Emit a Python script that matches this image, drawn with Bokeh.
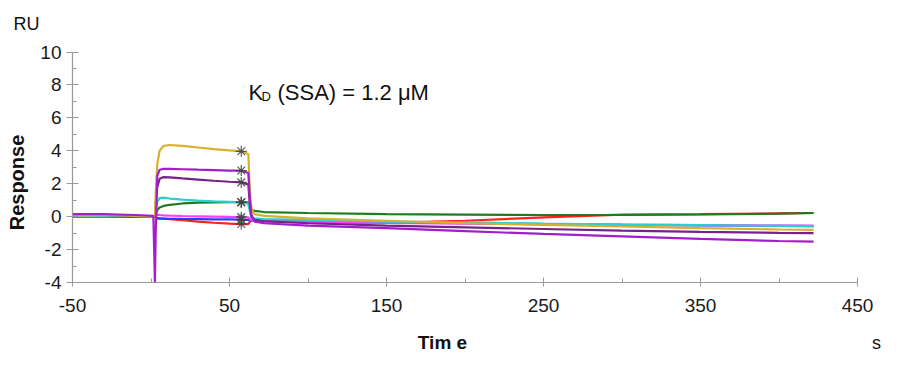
import math
from bokeh.plotting import figure
from bokeh.models import Range1d, FixedTicker, Label, ColumnDataSource
from bokeh.embed import file_html
from bokeh.resources import INLINE

# ---------------- data ----------------
time_s = [-50, -30, -10, 1.5, 2.5, 3, 4, 5.5, 8, 12, 20, 30, 40, 50, 57.5, 62,
          63, 64, 66, 72, 100, 150, 200, 250, 300, 350, 400, 422]
report_index = 14  # report point at t = 57.5 s

gold = [0.05, 0.1, 0.05, 0.0, 0.0, 1.5, 3.2, 4.0, 4.3, 4.35, 4.3, 4.2, 4.1, 4.02, 3.97, 3.8,
        1.5, 0.5, 0.15, 0.05, -0.1, -0.25, -0.4, -0.5, -0.6, -0.7, -0.78, -0.8]
purple = [0.15, 0.15, 0.1, 0.05, -4.0, -1.0, 2.5, 2.85, 2.9, 2.9, 2.88, 2.85, 2.83, 2.8, 2.8, 2.65,
          1.0, 0.1, -0.3, -0.4, -0.55, -0.7, -0.88, -1.05, -1.2, -1.35, -1.48, -1.52]
dark_purple = [0.1, 0.1, 0.05, 0.0, 0.0, 0.8, 1.8, 2.3, 2.4, 2.38, 2.32, 2.25, 2.18, 2.12, 2.08, 1.95,
               0.7, 0.0, -0.2, -0.28, -0.4, -0.55, -0.65, -0.75, -0.85, -0.92, -0.98, -1.0]
cyan = [0.05, 0.05, 0.05, 0.0, 0.0, 0.4, 0.9, 1.12, 1.15, 1.1, 1.03, 0.97, 0.93, 0.9, 0.87, 0.8,
        0.3, -0.05, -0.1, -0.15, -0.2, -0.3, -0.35, -0.42, -0.48, -0.52, -0.56, -0.58]
green = [0.05, 0.05, 0.05, 0.0, 0.0, 0.15, 0.4, 0.55, 0.65, 0.72, 0.8, 0.85, 0.87, 0.88, 0.88, 0.85,
         0.5, 0.4, 0.35, 0.28, 0.22, 0.15, 0.12, 0.1, 0.1, 0.13, 0.18, 0.22]
magenta = [0.05, 0.05, 0.05, 0.0, 0.0, 0.1, 0.12, 0.1, 0.08, 0.06, 0.04, 0.02, 0.0, -0.02, -0.03, -0.05,
           -0.15, -0.2, -0.22, -0.28, -0.32, -0.38, -0.42, -0.45, -0.48, -0.52, -0.55, -0.55]
blue = [0.0, 0.0, 0.0, 0.0, 0.0, -0.05, -0.1, -0.12, -0.12, -0.13, -0.14, -0.15, -0.16, -0.17, -0.18, -0.2,
        -0.22, -0.25, -0.25, -0.27, -0.3, -0.35, -0.4, -0.45, -0.5, -0.53, -0.56, -0.57]
red = [0.05, 0.05, 0.0, 0.0, 0.0, -0.05, -0.08, -0.1, -0.12, -0.15, -0.22, -0.3, -0.37, -0.42, -0.45, -0.45,
       -0.3, -0.2, -0.18, -0.2, -0.3, -0.38, -0.25, -0.05, 0.12, 0.15, 0.2, 0.22]

series = [red, blue, magenta, green, cyan, dark_purple, gold, purple]
colors = ["#FF2020", "#2A3CFF", "#FF3CFF", "#1E7B1E", "#2CCFCF", "#762388", "#D8B030", "#A21ECB"]

x_ticks = [-50, 50, 150, 250, 350, 450]
x_minor = [0, 100, 200, 300, 400]
y_ticks = [-4, -2, 0, 2, 4, 6, 8, 10]
y_minor = [-3, -1, 1, 3, 5, 7, 9]
x_axis_min, x_axis_max = -50, 450
y_axis_min, y_axis_max = -4, 10

# ---------------- layout (pixels) ----------------
W, H = 910, 360
AX_LEFT_PX, AX_RIGHT_PX = 72.0, 857.0     # x = -50 .. 450
AX_TOP_PX, AX_BOTTOM_PX = 51.5, 282.0     # y = 10 .. -4
kx = (AX_RIGHT_PX - AX_LEFT_PX) / (x_axis_max - x_axis_min)
ky = (AX_BOTTOM_PX - AX_TOP_PX) / (y_axis_max - y_axis_min)
x_start = x_axis_min - AX_LEFT_PX / kx
x_end = x_start + W / kx
y_end = y_axis_max + AX_TOP_PX / ky
y_start = y_end - H / ky


def dx(px):
    return x_start + px / kx


def dy(py):
    return y_end - py / ky


FONT = "Liberation Sans"
p = figure(width=W, height=H, x_range=Range1d(x_start, x_end), y_range=Range1d(y_start, y_end),
           output_backend="svg", toolbar_location=None,
           min_border_left=0, min_border_right=0, min_border_top=0, min_border_bottom=0)
p.outline_line_color = None
p.xgrid.visible = False
p.ygrid.visible = False
p.background_fill_color = "white"
p.border_fill_color = "white"

xa = p.xaxis[0]
ya = p.yaxis[0]
xa.fixed_location = y_axis_min
ya.fixed_location = x_axis_min
xa.bounds = (x_axis_min, x_axis_max)
ya.bounds = (y_axis_min, y_axis_max)

for ax in (xa, ya):
    ax.axis_line_color = "#9a9a9a"
    ax.axis_line_width = 1.2
    ax.major_tick_line_color = "#9a9a9a"
    ax.minor_tick_line_color = "#9a9a9a"
    ax.major_label_text_font = FONT
    ax.major_label_text_font_size = "19px"
    ax.major_label_text_color = "#1a1a1a"

xa.ticker = FixedTicker(ticks=x_ticks, minor_ticks=x_minor)
ya.ticker = FixedTicker(ticks=y_ticks, minor_ticks=y_minor)
xa.major_label_overrides = {t: str(t) for t in x_ticks}
ya.major_label_overrides = {t: str(t) for t in y_ticks}
xa.major_tick_in = 5
xa.major_tick_out = 4
xa.minor_tick_in = 4
xa.minor_tick_out = 0
xa.major_label_standoff = 12
ya.major_tick_in = 6
ya.major_tick_out = 6
ya.minor_tick_in = 4
ya.minor_tick_out = 0
ya.major_label_standoff = 5

for s, c in zip(series, colors):
    p.line(time_s, s, line_color=c, line_width=2.2)

# report point markers
marker_src = ColumnDataSource(dict(x=[time_s[report_index]] * len(series),
                                   y=[s[report_index] for s in series]))
p.scatter("x", "y", source=marker_src, marker="asterisk", size=11,
          line_color="#404040", line_width=1.2, line_alpha=0.85)


def add_label(text, px, py, size, bold=False, align="left", baseline="alphabetic", angle=0.0):
    p.add_layout(Label(x=dx(px), y=dy(py), text=text, text_font=FONT, text_font_size=size,
                       text_font_style="bold" if bold else "normal", text_color="#111111",
                       text_align=align, text_baseline=baseline, angle=angle))


add_label("RU", 13, 23, "18px")
add_label("Response", 16, 182, "20px", bold=True, align="center", baseline="middle", angle=math.pi / 2)
add_label("Tim e", 442, 342, "19px", bold=True, align="center", baseline="middle")
add_label("s", 876, 342, "18px", align="center", baseline="middle")
add_label("K", 248, 92, "22px")
add_label("D", 261, 96, "13px")
add_label("(SSA) = 1.2 μM", 277, 92, "22px")

open("out.html", "w").write(file_html(p, INLINE))
